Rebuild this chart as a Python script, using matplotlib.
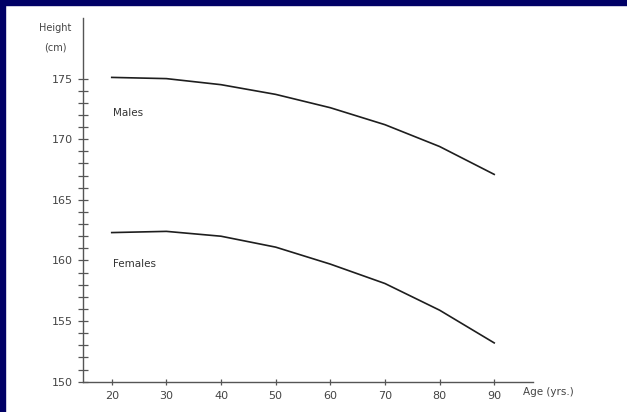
import matplotlib
matplotlib.use("Agg")
import matplotlib.pyplot as plt
from matplotlib.ticker import FixedLocator

# values
ages = [20, 30, 40, 50, 60, 70, 80, 90]
males = [175.1, 175.0, 174.5, 173.7, 172.6, 171.2, 169.4, 167.1]
females = [162.3, 162.4, 162.0, 161.1, 159.7, 158.1, 155.9, 153.2]
x_ticks = [20, 30, 40, 50, 60, 70, 80, 90]
y_ticks = [150, 155, 160, 165, 170, 175]
y_minor = list(range(150, 176))

ink = '#1e1e1e'

fig = plt.figure(figsize=(6.27, 4.12), dpi=100)
fig.patch.set_facecolor('white')

# navy frame on the top and left edges
fig.patches.append(plt.Rectangle((0, 1 - 5/412), 1, 5/412, transform=fig.transFigure,
                                 color='#000066', zorder=10))
fig.patches.append(plt.Rectangle((0, 0), 5/627, 1, transform=fig.transFigure,
                                 color='#000066', zorder=10))

ax = fig.add_axes([83/627, (412 - 381.7)/412, (533 - 83)/627, (381.7 - 18)/412])
ax.plot(ages, males, color=ink, lw=1.2)
ax.plot(ages, females, color=ink, lw=1.2)

ax.text(20.2, 172.2, 'Males', fontsize=7.5, color='#333333', ha='left', va='center')
ax.text(20.2, 159.7, 'Females', fontsize=7.5, color='#333333', ha='left', va='center')

ax.set_xlim(14.74, 97.1)
ax.set_ylim(150, 180)
ax.set_xticks(x_ticks)
ax.set_yticks(y_ticks)
ax.yaxis.set_minor_locator(FixedLocator(y_minor))

for s in ['top', 'right']:
    ax.spines[s].set_visible(False)
for s in ['left', 'bottom']:
    ax.spines[s].set_color('#555555')
    ax.spines[s].set_linewidth(1.0)

ax.tick_params(axis='both', which='both', direction='inout', colors='#555555',
               labelcolor='#444444', labelsize=8, width=0.9)
ax.tick_params(axis='x', which='major', length=5, pad=4)
ax.tick_params(axis='y', which='major', length=6.5, pad=4)
ax.tick_params(axis='y', which='minor', length=6.5)

fig.text(55/627, 1 - 28/412, 'Height', fontsize=7, color='#444444', ha='center', va='center')
fig.text(55/627, 1 - 48/412, '(cm)', fontsize=7, color='#444444', ha='center', va='center')
fig.text(523/627, 1 - 392/412, 'Age (yrs.)', fontsize=7.5, color='#444444', ha='left', va='center')

fig.savefig('out.png', dpi=100)
